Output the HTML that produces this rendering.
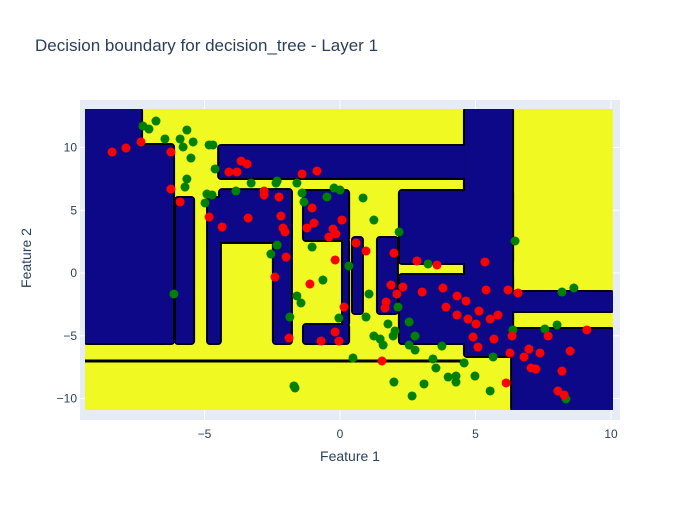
<!DOCTYPE html>
<html><head><meta charset="utf-8"><style>
body{margin:0;background:#fff;font-family:"Liberation Sans",sans-serif}
svg text{font-family:"Liberation Sans",sans-serif;fill:#2a3f5f}
</style></head><body>
<svg id="c" width="700" height="500" xmlns="http://www.w3.org/2000/svg">
<defs><clipPath id="dclip"><rect id="dcr" x="0" y="0" width="0" height="0"/></clipPath></defs>
<text x="35" y="51" font-size="17">Decision boundary for decision_tree - Layer 1</text>
<rect x="80" y="100" width="540" height="320" fill="#e5ecf6"/>
<g id="grid"></g><g id="regions" clip-path="url(#dclip)"></g><g id="pts"></g><g id="ticks"></g>
<text x="350" y="461" font-size="14" text-anchor="middle">Feature 1</text>
<text x="31" y="258" font-size="14" text-anchor="middle" transform="rotate(-90 31 258)">Feature 2</text>
</svg>
<script>
const xTicks=[-5,0,5,10];
const yTicks=[-10,-5,0,5,10];
// navy (class 1) regions [x0,x1,y0,y1]
const navyRegions=[
[-9.41,-7.34,10.2,13.07],[-9.41,-6.16,-5.58,10.2],[-6.05,-5.42,-5.58,5.98],
[-4.87,-4.43,-5.58,5.98],[-4.43,-1.81,2.47,6.6],[-2.44,-1.81,-5.58,6.6],
[-4.46,4.61,7.57,10.12],[4.61,6.35,-6.61,13.07],
[2.21,6.35,0.8,6.53],[2.21,6.35,-5.58,-0.16],
[6.35,10.07,-3.03,-1.51],[6.35,10.07,-10.92,-4.46],
[-1.33,0.3,2.63,6.53],[0.11,0.3,-4.14,2.63],[-1.33,0.3,-5.58,-4.14],
[0.48,0.81,-3.19,2.79],[1.4,2.1,-3.19,2.79]];
const domain=[-9.41,10.07,-10.92,13.07];
const splitLineY=-7.01;
const greenX=[-6.79,-7.27,-7.05,-6.46,-5.90,-5.65,-5.79,-5.42,-5.50,-4.83,-4.69,-4.61,-5.65,-5.72,-4.91,-4.72,-4.98,-3.84,-3.28,-2.36,-2.32,-1.59,-1.40,-1.33,-0.22,0,-0.48,-2.32,-2.55,-1.03,0.85,1.25,2.18,6.46,0.33,-0.63,-1.59,-1.44,-1.85,1.07,-0.04,0.96,2.14,1.77,2.55,2.77,1.25,1.48,1.59,1.96,2.03,2.55,2.77,0.48,-6.13,-1.66,3.25,3.76,3.43,3.54,4.58,5.65,6.38,7.56,8.01,8.19,8.63,1.99,3.10,2.66,3.99,4.28,4.28,4.98,5.54,8.34,-1.70];
const greenY=[12.11,11.71,11.47,10.68,10.68,11.39,10.04,10.44,9.16,10.20,10.20,8.29,7.49,6.85,6.29,6.22,5.58,6.53,7.17,7.17,7.33,7.17,6.37,5.66,6.77,6.61,6.06,2.23,1.51,2.07,5.98,4.22,3.27,2.55,0.56,-0.56,-1.83,-2.39,-3.51,-1.67,-3.59,-3.51,-2.71,-4.06,-3.90,-5.02,-5.02,-5.26,-5.74,-5.02,-4.62,-5.74,-6.14,-6.77,-1.67,-9.16,0.72,-5.82,-6.85,-7.57,-7.17,-6.69,-4.54,-4.46,-4.14,-1.51,-1.20,-8.69,-8.84,-9.80,-8.29,-8.21,-8.69,-8.21,-9.40,-10.04,-9.00];
const redX=[-8.41,-7.90,-7.34,-6.24,-6.24,-5.90,-3.65,-3.43,-4.10,-3.80,-1.40,-0.85,-2.80,-2.80,-2.25,-4.83,-3.39,-2.18,-4.35,-2.10,-2.03,-1.22,-0.96,-1.03,0.07,-0.26,-0.15,-0.41,-1.99,-0.18,0.59,0.96,1.99,2.84,3.58,5.35,-2.40,-1.11,0.15,-1.88,-0.70,-0.04,-0.18,1.88,2.32,2.10,3.03,3.80,4.32,4.65,5.39,6.20,6.57,3.91,4.32,5.13,4.72,5.02,5.54,5.83,1.70,1.66,4.91,5.68,5.09,6.35,7.68,9.11,6.27,6.97,6.79,7.38,8.49,7.05,7.23,8.19,1.55,6.13,8.04,8.27];
const redY=[9.64,9.96,10.44,9.64,6.69,5.66,8.92,8.69,8.05,8.05,7.89,8.13,6.53,6.22,6.06,4.46,4.38,4.54,3.67,3.59,3.27,3.59,3.98,5.18,4.22,3.51,3.11,2.87,1.27,1.04,2.39,1.75,1.59,0.96,0.64,0.88,-0.32,-0.88,-2.71,-5.18,-5.42,-5.42,-4.70,-0.96,-1.12,-1.67,-1.51,-1.20,-1.83,-2.23,-1.35,-1.35,-1.59,-2.71,-3.35,-3.03,-3.67,-4.06,-3.67,-3.35,-2.31,-2.79,-5.10,-5.26,-5.90,-5.02,-5.02,-4.54,-6.37,-6.06,-6.69,-6.37,-6.22,-7.57,-7.65,-7.81,-7.01,-8.76,-9.40,-9.72];

const NS='http://www.w3.org/2000/svg';
const sx=v=>340+v*27.1, sy=v=>273-v*12.55;
function mk(t,a,p){const e=document.createElementNS(NS,t);for(const k in a)e.setAttribute(k,a[k]);p.appendChild(e);return e;}
const G=document.getElementById('grid'),R=document.getElementById('regions'),P=document.getElementById('pts'),T=document.getElementById('ticks');
xTicks.forEach(v=>{
 const l=mk('line',{x1:sx(v),x2:sx(v),y1:100,y2:420,stroke:'#fff','stroke-width':1},G);
 
 
 const t=mk('text',{x:sx(v),y:438,'font-size':12,'text-anchor':'middle'},T);t.textContent=v<0?'−'+(-v):v;
 
 
});
yTicks.forEach(v=>{
 const l=mk('line',{x1:80,x2:620,y1:sy(v),y2:sy(v),stroke:'#fff','stroke-width':1},G);
 
 
 const t=mk('text',{x:77,y:sy(v)+4,'font-size':12,'text-anchor':'end'},T);t.textContent=v<0?'−'+(-v):v;
 
 
});
function rr(r){return {x:sx(r[0]),y:sy(r[3]),width:sx(r[1])-sx(r[0]),height:sy(r[2])-sy(r[3])};}
const dr=rr(domain);const dcr=document.getElementById('dcr');
for(const k in dr)dcr.setAttribute(k,dr[k]);
const bgA=rr(domain);bgA.fill='#f0f921';
const bg=mk('rect',bgA,R);


navyRegions.forEach(r=>{const a=rr(r);a.fill='#0d0887';a.stroke='#000';a['stroke-width']=4;a.rx=2;mk('rect',a,R);});
const sl=mk('line',{x1:sx(domain[0]),x2:sx(4.61),y1:sy(splitLineY),y2:sy(splitLineY),stroke:'#000','stroke-width':3},R);


navyRegions.forEach(r=>{const a=rr(r);a.fill='#0d0887';const e=mk('rect',a,R);
 
 });
greenX.forEach((x,i)=>{const c=mk('circle',{cx:sx(x),cy:sy(greenY[i]),r:4.5,fill:'#008000'},P);
 
 });
redX.forEach((x,i)=>{const c=mk('circle',{cx:sx(x),cy:sy(redY[i]),r:4.5,fill:'#ff0000'},P);
 
 });
</script>
</body></html>
